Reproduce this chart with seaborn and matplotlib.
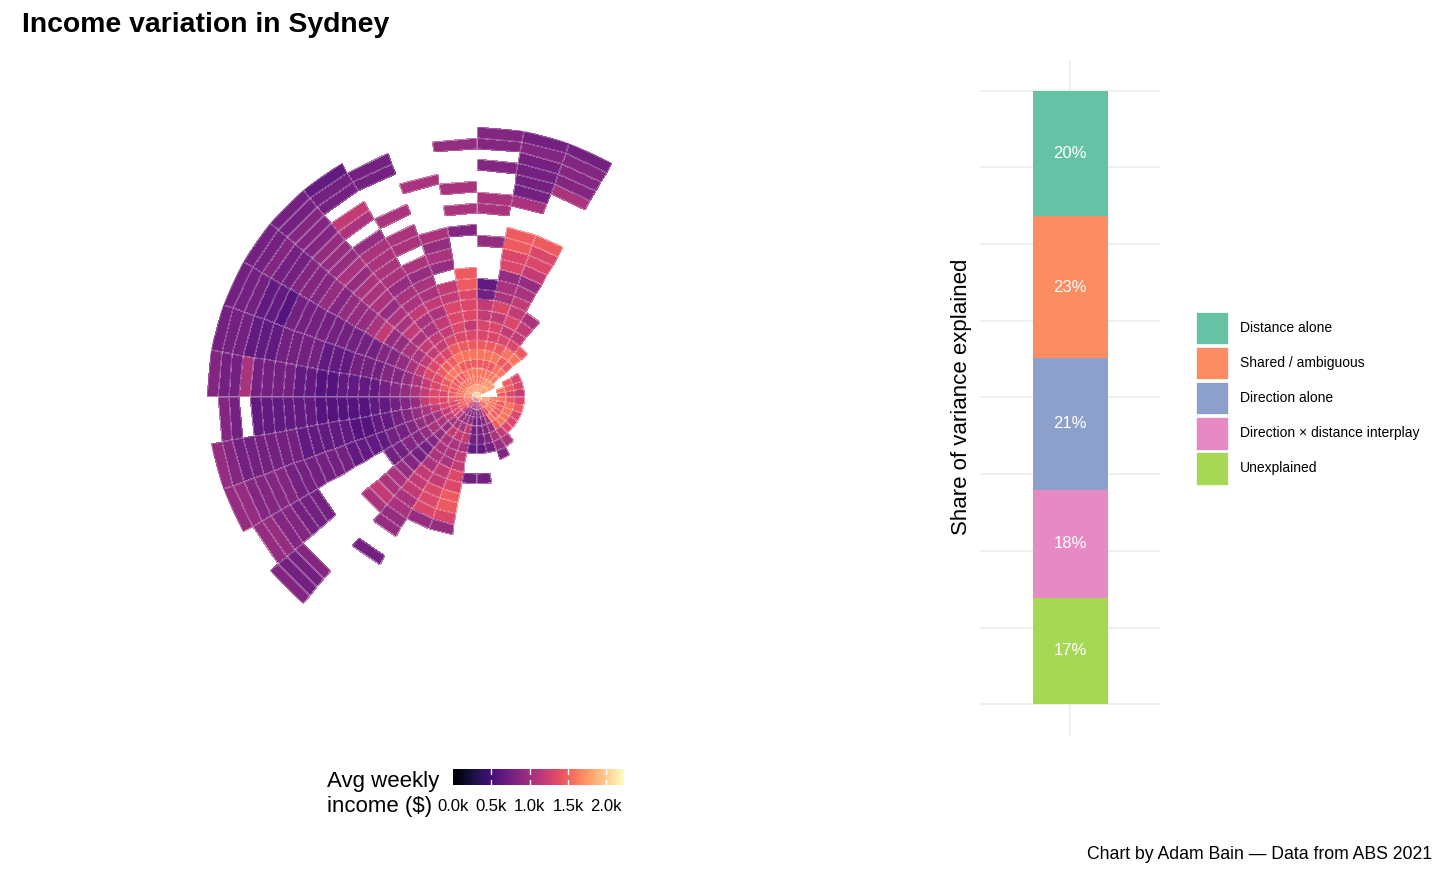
import numpy as np
import pandas as pd
import seaborn as sns
import matplotlib
matplotlib.use("Agg")
import matplotlib.pyplot as plt
from matplotlib.patches import Patch
from matplotlib.colors import Normalize
from matplotlib.cm import ScalarMappable

# ---------------- data ----------------
# direction bins (degrees, counter-clockwise from east) and distance bins (km)
sector_start_deg = list(range(0, 360, 10))
ring_edges_km = [0, 0.5, 1.2, 1.9, 2.7, 3.5, 4.4, 5.3, 6.2, 7.1, 8.1, 9.1, 10,
                 11, 12, 13, 14, 15, 16, 17, 18, 19, 20, 21, 22, 23, 24, 25]

# avg weekly income per cell, coded by level ('.' = no data)
income_codes = {"1": 580, "2": 660, "3": 750, "4": 840, "5": 940, "6": 1050,
                "7": 1180, "8": 1320, "9": 1450, "a": 1580, "b": 1720,
                "c": 1900, "d": 2150}

# one string per direction bin, inner ring first
income_by_sector = [
    "...987",
    "...a98",
    "....98",
    "cbb",
    "cbbaa9a9",
    "cbbaa9a8776",
    "cbba9a987877657889....64443",
    "cbaa9a988786658899..6333343",
    "cbaa9a9887732...5..66..4.44",
    "dbaa9a98788899...4.6.6...5",
    "cbaa9a9888877.5656....6",
    "cbaa9a9877676656.66.6...33",
    "cba9a987766766566665.67.332",
    "cba9a9877676656665655544433",
    "cba9a9876655765554544433433",
    "cba998876544333333333122333",
    "cba998765443332223333222333",
    "baa988765432222112233336334",
    "ba998875432211111222222.34",
    "ba9887654322112222233333345",
    "a99876554332222333333444455",
    "a99876654433.......3334455",
    "a987655433456676.......4334",
    "86556766667776655..3",
    "875567666778885",
    "864577677889985",
    "7543332..3",
    "7643332..3",
    "8754443",
    "98765654",
    "a98a976",
    "a9a9a8",
    "baa9a8",
    "baa9a8",
    "cba9a9",
    "cbaa98",
]

income_ticks = [0, 500, 1000, 1500, 2000]
income_max = 2230

# variance decomposition (top of stack first)
components = ["Distance alone", "Shared / ambiguous", "Direction alone",
              "Direction \u00d7 distance interplay", "Unexplained"]
variance_share = [0.2045, 0.2310, 0.2145, 0.1760, 0.1740]

# ---------------- figure ----------------
sns.set_style("white")
plt.rcParams["font.family"] = ["Liberation Sans", "DejaVu Sans"]
plt.rcParams["text.color"] = "black"
plt.rcParams["xtick.color"] = "black"

W, H = 1456, 874
fig = plt.figure(figsize=(W / 100, H / 100), dpi=100)


def box(x0, y0, x1, y1):
    # pixel box (top-left origin) -> figure fraction rect
    return [x0 / W, 1 - y1 / H, (x1 - x0) / W, (y1 - y0) / H]


cmap = sns.color_palette("magma", as_cmap=True)
norm = Normalize(0, income_max)

# polar heatmap
n_rings = len(ring_edges_km) - 1
grid = np.full((n_rings, len(sector_start_deg)), np.nan)
for s, row in enumerate(income_by_sector):
    for k, ch in enumerate(row.ljust(n_rings, ".")):
        if ch != ".":
            grid[k, s] = income_codes[ch]

theta_edges = np.deg2rad(sector_start_deg + [360])
ax = fig.add_axes(box(207, 127, 747, 667), projection="polar")
ax.pcolormesh(theta_edges, ring_edges_km, np.ma.masked_invalid(grid),
              cmap=cmap, norm=norm, edgecolors=(1, 1, 1, 0.22), linewidth=0.35)
ax.set_ylim(0, ring_edges_km[-1])
ax.set_axis_off()

# colour bar
cax = fig.add_axes(box(453, 769, 624, 785))
cb = fig.colorbar(ScalarMappable(norm=norm, cmap=cmap), cax=cax,
                  orientation="horizontal")
cb.outline.set_visible(False)
cb.set_ticks(income_ticks)
cb.set_ticklabels([f"{t / 1000:.1f}k" for t in income_ticks])
cax.tick_params(length=0, pad=10, labelsize=12)
for t in income_ticks[1:]:
    cax.axvline(t, 0, 0.3, color="white", lw=1)
    cax.axvline(t, 0.7, 1, color="white", lw=1)
fig.text(327 / W, 1 - 794 / H, "Avg weekly\nincome ($)", fontsize=16,
         ha="left", va="center", linespacing=1.25)

# stacked share bar
bax = fig.add_axes(box(980, 60, 1160, 735))
palette = sns.color_palette("Set2", len(components))
bar_df = pd.DataFrame({"component": components, "share": variance_share})
bar_df["bottom"] = bar_df["share"][::-1].cumsum() - bar_df["share"]

for y in np.arange(0, 1.001, 0.125):
    bax.axhline(y, color="#ebebeb", lw=1.1, zorder=0)
bax.axvline(0, color="#ebebeb", lw=1.1, zorder=0)

for i, r in bar_df.iterrows():
    sns.barplot(x=["all"], y=[r["share"]], bottom=r["bottom"], color=palette[i],
                width=0.5, saturation=1, errorbar=None, linewidth=0,
                zorder=2, ax=bax)
    bax.text(0, r["bottom"] + r["share"] / 2, f"{r['share'] * 100:.0f}%",
             color="white", ha="center", va="center", fontsize=12, zorder=3)

bax.set_xlim(-0.6, 0.6)
bax.set_ylim(-0.05, 1.05)
bax.axis("off")
fig.text(962 / W, 1 - 397 / H, "Share of variance explained", rotation=90,
         ha="center", va="center", fontsize=16)

handles = [Patch(facecolor=c, edgecolor="white", linewidth=0.5) for c in palette]
fig.legend(handles, components, loc="upper left",
           bbox_to_anchor=(1196 / W, 1 - 312 / H), frameon=False, fontsize=10,
           handlelength=2.3, handleheight=3.2, labelspacing=0.2,
           handletextpad=0.86, borderpad=0, borderaxespad=0)

fig.text(22 / W, 1 - 32 / H, "Income variation in Sydney", fontsize=20.4,
         fontweight="bold", ha="left", va="baseline")
fig.text(1432 / W, 1 - 859 / H, "Chart by Adam Bain \u2014 Data from ABS 2021",
         fontsize=12.7, ha="right", va="baseline")

fig.savefig("out.png", dpi=100)
